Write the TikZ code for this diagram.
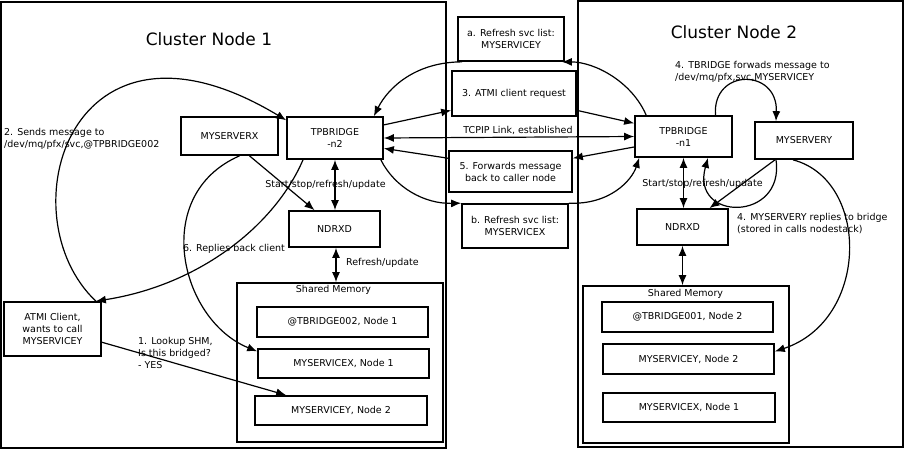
\documentclass[tikz,border=0pt]{standalone}
\usepackage{fontspec}
\setmainfont{DejaVu Sans}
\usetikzlibrary{arrows.meta, calc}

\begin{document}
\begin{tikzpicture}[x=1pt, y=-1pt, >={Latex[length=10pt,width=8pt]},
        font=\fontsize{9.5}{12}\selectfont,
        box/.style={draw, line width=1.7pt, align=center, inner sep=0pt},
        conn/.style={line width=1.2pt},
        lbl/.style={inner sep=0pt, align=left}]
        \useasboundingbox (0,0) rectangle (906,450);

        % cluster frames
        \draw[line width=1.6pt] (1,2) rectangle (446,448);
        \draw[line width=1.6pt] (578,1) rectangle (903,447);
        \node[font=\fontsize{17}{20}\selectfont] at (209,39) (nc1) {Cluster Node 1};
        \node[font=\fontsize{17}{20}\selectfont] at (734,32) (nc2) {Cluster Node 2};

        % cluster node 1
        \node[box, minimum width=97, minimum height=38] at (229.5,136) (nmyx) {MYSERVERX};
        \node[box, minimum width=96, minimum height=42] at (335,138) (ntpb2) {TPBRIDGE\\-n2};
        \node[box, minimum width=91, minimum height=36] at (334.5,229) (nndx1) {NDRXD};
        \node[box, minimum width=97, minimum height=54] at (52.5,329) (nclient) {ATMI Client,\\wants to call\\MYSERVICEY};
        \node[box, minimum width=206, minimum height=159] at (340,362.5) (nshm1) {};
        \node at (333.5,290) (nshm1t) {Shared Memory};
        \node[box, minimum width=171, minimum height=30] at (342.5,322) (nbr2) {@TBRIDGE002, Node 1};
        \node[box, minimum width=171, minimum height=29] at (343.5,363.5) (nsvx1) {MYSERVICEX, Node 1};
        \node[box, minimum width=172, minimum height=29] at (341,410.5) (nsvy1) {MYSERVICEY, Node 2};

        % middle
        \node[box, minimum width=106, minimum height=44] at (511,39) (nrefa) {a. Refresh svc list:\\MYSERVICEY};
        \node[box, minimum width=124, minimum height=45] at (514,93.5) (natmi) {3. ATMI client request};
        \node[box, minimum width=123, minimum height=41] at (510.5,171.5) (nfwd) {5. Forwards message\\back to caller node};
        \node[box, minimum width=106, minimum height=44] at (515,226) (nrefb) {b. Refresh svc list:\\MYSERVICEX};

        % cluster node 2
        \node[box, minimum width=97, minimum height=41] at (683.5,136.5) (ntpb1) {TPBRIDGE\\-n1};
        \node[box, minimum width=98, minimum height=37] at (804,140.5) (nmyy) {MYSERVERY};
        \node[box, minimum width=91, minimum height=36] at (682.5,227) (nndx2) {NDRXD};
        \node[box, minimum width=206, minimum height=157] at (686,364.5) (nshm2) {};
        \node at (685.5,294) (nshm2t) {Shared Memory};
        \node[box, minimum width=171, minimum height=30] at (687.5,317) (nbr1) {@TBRIDGE001, Node 2};
        \node[box, minimum width=171, minimum height=30] at (688.5,359) (nsvy2) {MYSERVICEY, Node 2};
        \node[box, minimum width=172, minimum height=29] at (689,407.5) (nsvx2) {MYSERVICEX, Node 1};

        % labels
        \node[lbl, anchor=west] at (4,138.5) (nl2) {2. Sends message to\\/dev/mq/pfx/svc,@TPBRIDGE002};
        \node[lbl] at (325.5,185) (nlss1) {Start/stop/refresh/update};
        \node[lbl, anchor=west] at (346,263) (nlru) {Refresh/update};
        \node[lbl] at (234,249) (nl6) {6. Replies back client};
        \node[lbl, anchor=west] at (138,353) (nl1) {1. Lookup SHM,\\Is this bridged?\\- YES};
        \node[lbl] at (518,130) (nltcp) {TCPIP Link, established};
        \node[lbl, anchor=west] at (675,72) (nl4a) {4. TBRIDGE forwads message to\\/dev/mq/pfx,svc,MYSERVICEY};
        \node[lbl] at (702.5,184) (nlss2) {Start/stop/refresh/update};
        \node[lbl, anchor=west] at (737,223.5) (nl4b) {4. MYSERVERY replies to bridge\\(stored in calls nodestack)};

        % connectors, cluster node 1
        \draw[conn, ->] ([xshift=-6pt]nclient.north east) .. controls (5,215) and (70,-10) .. (ntpb2.160);
        \draw[conn, ->] ([xshift=-32pt]ntpb2.south) .. controls (275,225) and (200,285) .. ([xshift=-6pt]nclient.north east);
        \draw[conn, ->] ([xshift=10pt]nmyx.south) .. controls (150,195) and (180,320) .. (nsvx1.172);
        \draw[conn, ->] ([xshift=20pt]nmyx.south) -- ([xshift=-20pt]nndx1.north);
        \draw[conn, <->] (ntpb2.south) -- (ntpb2.south |- nndx1.north);
        \draw[conn, <->] ([xshift=1.5pt]nndx1.south) -- ([xshift=1.5pt]nndx1.south |- nshm1.north);
        \draw[conn, ->] (nclient.-15) -- ([xshift=32pt]nsvy1.north west);

        % connectors, link
        \draw[conn, ->] (ntpb2.15) -- (natmi.-165);
        \draw[conn, ->] (natmi.-15) -- (ntpb1.165);
        \draw[conn, <->] (ntpb2.east) -- (ntpb1.west);
        \draw[conn, ->] (ntpb1.-168) -- (nfwd.12);
        \draw[conn, ->] (nfwd.168) -- (ntpb2.-12);
        \draw[conn, ->] ([xshift=12pt]ntpb1.north west) .. controls (632,82) and (595,62) .. ([xshift=-3pt]nrefa.south east);
        \draw[conn, ->] ([xshift=5pt]nrefa.south west) .. controls (415,62) and (388,88) .. ([xshift=-10pt]ntpb2.north east);
        \draw[conn, ->] ([xshift=-3pt]ntpb2.south east) .. controls (395,188) and (425,204) .. (nrefb.north west);
        \draw[conn, ->] (nrefb.north east) .. controls (610,205) and (632,180) .. ([xshift=5pt]ntpb1.south west);

        % connectors, cluster node 2
        \draw[conn, ->] ([xshift=32pt]ntpb1.north) .. controls (712,68) and (778,68) .. ([xshift=-28pt]nmyy.north);
        \draw[conn, ->] ([xshift=-28pt]nmyy.south) .. controls (785,222) and (690,222) .. ([xshift=24.5pt]ntpb1.south);
        \draw[conn, ->] ([xshift=-29pt]nmyy.south) -- ([xshift=27pt]nndx2.north);
        \draw[conn, <->] (ntpb1.south) -- (ntpb1.south |- nndx2.north);
        \draw[conn, <->] (nndx2.south) -- (nndx2.south |- nshm2.north);
        \draw[conn, ->] ([xshift=-11pt]nmyy.south) .. controls (870,180) and (870,320) .. (nsvy2.5);
    \end{tikzpicture}
\end{document}
